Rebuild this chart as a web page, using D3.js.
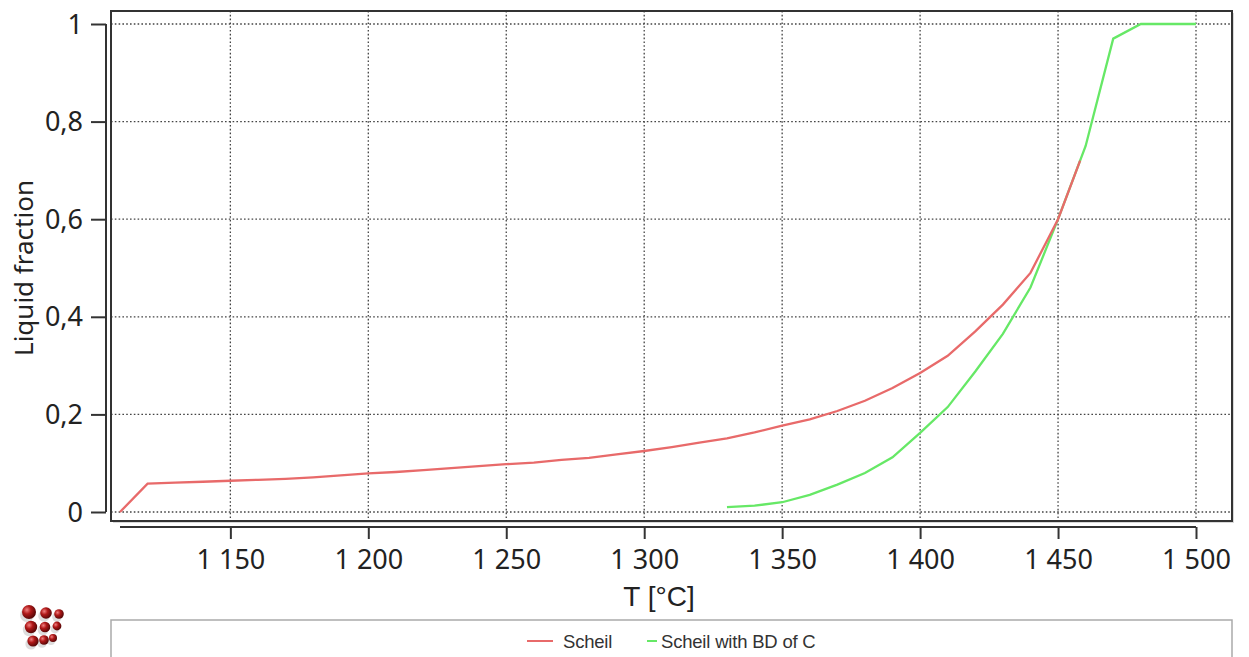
<!DOCTYPE html>
<html><head><meta charset="utf-8">
<script src="https://cdn.jsdelivr.net/npm/d3@7"></script>
<style>html,body{margin:0;padding:0;background:#fff;}svg{display:block;}</style>
</head><body>
<svg id="c" width="1249" height="657"></svg>
<script>
// ---- data ----
const scheilT = [1110,1120,1130,1140,1150,1160,1170,1180,1190,1200,1210,1220,1230,1240,1250,1260,1270,1280,1290,1300,1310,1320,1330,1340,1350,1360,1370,1380,1390,1400,1410,1420,1430,1440,1450,1458];
const scheilF = [0,0.058,0.060,0.062,0.064,0.066,0.068,0.071,0.075,0.079,0.082,0.086,0.090,0.094,0.098,0.101,0.107,0.111,0.118,0.125,0.133,0.142,0.151,0.163,0.177,0.190,0.207,0.228,0.254,0.285,0.320,0.370,0.425,0.490,0.600,0.720];
const bdT = [1330,1340,1350,1360,1370,1380,1390,1400,1410,1420,1430,1440,1450,1460,1470,1480,1490,1500];
const bdF = [0.010,0.013,0.020,0.035,0.056,0.080,0.112,0.162,0.215,0.288,0.365,0.460,0.600,0.750,0.970,1.0,1.0,1.0];
const xTicks = [1150,1200,1250,1300,1350,1400,1450,1500];
const xTickLabels = ["1 150","1 200","1 250","1 300","1 350","1 400","1 450","1 500"];
const yTicks = [0,0.2,0.4,0.6,0.8,1];
const yTickLabels = ["0","0,2","0,4","0,6","0,8","1"];
const seriesNames = ["Scheil","Scheil with BD of C"];
const seriesColors = ["#e86a6a","#66e866"];

// ---- layout ----
const svg = d3.select("#c");
const FONT = "'Noto Sans', 'DejaVu Sans', sans-serif";
const x = d3.scaleLinear().domain([1110,1500]).range([120,1196]);
const y = d3.scaleLinear().domain([0,1]).range([512,24]);
const box = {x0:111, x1:1232, y0:11, y1:521};

// plot box shadow + frame
svg.append("rect").attr("x",box.x0+2).attr("y",box.y0+2).attr("width",box.x1-box.x0).attr("height",box.y1-box.y0)
  .attr("fill","#d8d8d8");
svg.append("rect").attr("x",box.x0).attr("y",box.y0).attr("width",box.x1-box.x0).attr("height",box.y1-box.y0)
  .attr("fill","#fff");

// gridlines
const grid = svg.append("g").attr("stroke","#444").attr("stroke-width",1.3).attr("stroke-dasharray","1.6,2.2");
grid.selectAll(".gx").data(xTicks).join("line")
  .attr("x1",d=>x(d)).attr("x2",d=>x(d)).attr("y1",box.y0).attr("y2",box.y1);
grid.selectAll(".gy").data(yTicks).join("line")
  .attr("x1",box.x0).attr("x2",box.x1).attr("y1",d=>y(d)).attr("y2",d=>y(d));

// curves
const line = d3.line().x(d=>x(d[0])).y(d=>y(d[1]));
const s1 = scheilT.map((t,i)=>[t,scheilF[i]]);
const s2 = bdT.map((t,i)=>[t,bdF[i]]);
svg.append("path").attr("d",line(s2)).attr("fill","none").attr("stroke",seriesColors[1]).attr("stroke-width",2.3);
svg.append("path").attr("d",line(s1)).attr("fill","none").attr("stroke",seriesColors[0]).attr("stroke-width",2.3);

svg.append("rect").attr("x",box.x0).attr("y",box.y0).attr("width",box.x1-box.x0).attr("height",box.y1-box.y0)
  .attr("fill","none").attr("stroke","#333").attr("stroke-width",2);

// y axis
const yAx = svg.append("g").attr("transform","translate(106,0)");
yAx.call(d3.axisLeft(y).tickValues(d3.range(0,1.0001,0.05)).tickSize(9).tickFormat(""));
yAx.call(d3.axisLeft(y).tickValues(yTicks).tickSize(15).tickPadding(8).tickFormat((d,i)=>yTickLabels[i]));
yAx.selectAll("path.domain").attr("d",`M0,${y(0)}V${y(1)}`);
yAx.selectAll("line,path").attr("stroke","#333").attr("stroke-width",2);
yAx.selectAll("text").attr("font-family",FONT).attr("font-size",27).attr("fill","#222").attr("dy","0.34em");

// x axis
const xAx = svg.append("g").attr("transform","translate(0,527)");
xAx.call(d3.axisBottom(x).tickValues(d3.range(1110,1501,10)).tickSize(6).tickFormat(""));
xAx.call(d3.axisBottom(x).tickValues(xTicks).tickSize(12).tickPadding(11).tickFormat((d,i)=>xTickLabels[i]));
xAx.selectAll("path.domain").attr("d",`M${x(1110)},0H${x(1500)}`);
xAx.selectAll("line,path").attr("stroke","#333").attr("stroke-width",2);
xAx.selectAll("text").attr("font-family",FONT).attr("font-size",27).attr("fill","#222");

// axis titles
svg.append("text").attr("x",659).attr("y",606).attr("text-anchor","middle")
  .attr("font-family","'Liberation Sans',sans-serif").attr("font-size",28).attr("fill","#222").text("T [°C]");
svg.append("text").attr("transform","translate(33,268) rotate(-90)").attr("text-anchor","middle")
  .attr("font-family",FONT).attr("font-size",26).attr("fill","#222").text("Liquid fraction");

// legend
svg.append("rect").attr("x",box.x0).attr("y",620).attr("width",box.x1-box.x0).attr("height",60)
  .attr("fill","#fff").attr("stroke","#aaa").attr("stroke-width",1.5);
const legItems = [{lx1:527,lx2:553,tx:563},{lx1:647,lx2:657,tx:661}];
const lg = svg.append("g");
legItems.forEach((it,i)=>{
  lg.append("line").attr("x1",it.lx1).attr("x2",it.lx2).attr("y1",641).attr("y2",641)
    .attr("stroke",seriesColors[i]).attr("stroke-width",2);
  lg.append("text").attr("x",it.tx).attr("y",648).attr("font-family","'Liberation Sans',sans-serif")
    .attr("font-size",18.5).attr("fill","#333").attr("letter-spacing","-0.2").text(seriesNames[i]);
});

// logo (decorative spheres)
const defs = svg.append("defs");
const rg = defs.append("radialGradient").attr("id","ball").attr("cx","35%").attr("cy","35%").attr("r","65%");
rg.append("stop").attr("offset","0%").attr("stop-color","#f08080");
rg.append("stop").attr("offset","45%").attr("stop-color","#b01818");
rg.append("stop").attr("offset","100%").attr("stop-color","#5a0808");
const balls = [[29,612,7],[46,613,5.8],[59,614,4.8],[31,627,6.2],[45,627,5.3],[57,626,4.4],[33,641,5.6],[44,640,4.8],[53,638,4]];
const lgo = svg.append("g");
balls.forEach(b=>lgo.append("circle").attr("cx",b[0]-2).attr("cy",b[1]+3).attr("r",b[2]).attr("fill","#bbb").attr("opacity",0.5));
balls.forEach(b=>lgo.append("circle").attr("cx",b[0]).attr("cy",b[1]).attr("r",b[2]).attr("fill","url(#ball)"));
</script>
</body></html>
